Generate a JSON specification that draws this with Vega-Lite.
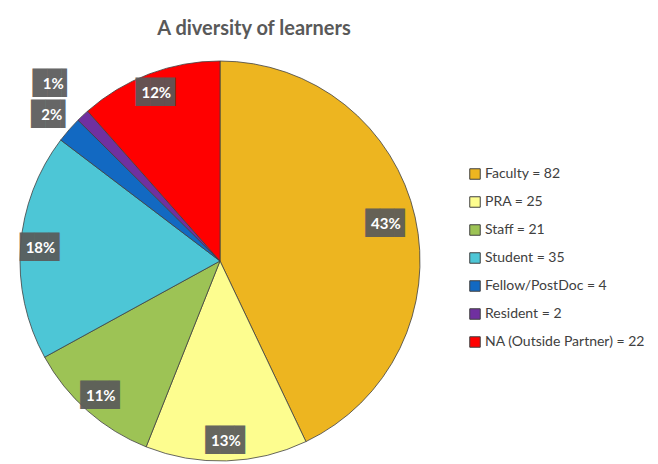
{
 "$schema": "https://vega.github.io/schema/vega-lite/v6.json",
 "width": 400, "height": 400,
 "autosize": {"type": "none"},
 "padding": {"left": 20, "top": 61, "right": 238, "bottom": 3},
 "background": "white",
 "title": {"text": "A diversity of learners", "anchor": "middle", "dx": 34, "fontSize": 20, "font": "Lato", "fontWeight": "bold", "color": "#595959", "offset": -17},
 "data": {"values": [
   {"idx": 1, "category": "Faculty = 82", "value": 82, "pct": "43%"},
   {"idx": 2, "category": "PRA = 25", "value": 25, "pct": "13%"},
   {"idx": 3, "category": "Staff = 21", "value": 21, "pct": "11%"},
   {"idx": 4, "category": "Student = 35", "value": 35, "pct": "18%"},
   {"idx": 5, "category": "Fellow/PostDoc = 4", "value": 4, "pct": "2%"},
   {"idx": 6, "category": "Resident = 2", "value": 2, "pct": "1%"},
   {"idx": 7, "category": "NA (Outside Partner) = 22", "value": 22, "pct": "12%"}
 ]},
 "encoding": {
   "theta": {"field": "value", "type": "quantitative", "stack": true},
   "order": {"field": "idx", "type": "quantitative"}
 },
 "layer": [
  {"mark": {"type": "arc", "outerRadius": 200, "stroke": "#404040", "strokeWidth": 0.8},
   "encoding": {"color": {"field": "category", "type": "nominal",
     "scale": {"domain": ["Faculty = 82", "PRA = 25", "Staff = 21", "Student = 35", "Fellow/PostDoc = 4", "Resident = 2", "NA (Outside Partner) = 22"],
               "range": ["#EDB520", "#FDFD8F", "#9DC355", "#4DC6D6", "#1269C2", "#7030A0", "#FF0000"]},
     "legend": {"title": null, "orient": "none", "legendX": 448, "legendY": 106, "symbolType": "square", "symbolSize": 110, "symbolStrokeColor": "#404040", "symbolStrokeWidth": 1, "labelFontSize": 14, "labelFont": "Lato", "labelColor": "#404040", "rowPadding": 12, "labelOffset": 3}}}},
  {"mark": {"type": "text", "radius": 170, "font": "DejaVu Sans Mono", "fontSize": 24, "color": "#5a5a5a", "opacity": 0.92, "align": "center", "baseline": "middle", "dx": 1},
   "encoding": {"text": {"condition": {"test": "datum.idx == 1", "value": "██▊"}, "value": ""}}},
  {"mark": {"type": "text", "radius": 180, "font": "DejaVu Sans Mono", "fontSize": 24, "color": "#5a5a5a", "opacity": 0.92, "align": "center", "baseline": "middle", "dx": 1},
   "encoding": {"text": {"condition": {"test": "datum.idx == 2 || datum.idx == 3 || datum.idx == 4 || datum.idx == 7", "value": "██▊"}, "value": ""}}},
  {"mark": {"type": "text", "radius": 223, "font": "DejaVu Sans Mono", "fontSize": 24, "color": "#5a5a5a", "opacity": 0.92, "align": "center", "baseline": "middle", "dx": 1},
   "encoding": {"text": {"condition": {"test": "datum.idx == 5", "value": "██▍"}, "value": ""}}},
  {"mark": {"type": "text", "radius": 243, "font": "DejaVu Sans Mono", "fontSize": 24, "color": "#5a5a5a", "opacity": 0.92, "align": "center", "baseline": "middle", "dx": 1},
   "encoding": {"text": {"condition": {"test": "datum.idx == 6", "value": "██▍"}, "value": ""}}},
  {"mark": {"type": "text", "radius": 170, "font": "Lato", "fontWeight": "bold", "fontSize": 15, "color": "white", "align": "center", "baseline": "middle"},
   "encoding": {"text": {"condition": {"test": "datum.idx == 1", "field": "pct"}, "value": ""}}},
  {"mark": {"type": "text", "radius": 180, "font": "Lato", "fontWeight": "bold", "fontSize": 15, "color": "white", "align": "center", "baseline": "middle"},
   "encoding": {"text": {"condition": {"test": "datum.idx == 2 || datum.idx == 3 || datum.idx == 4 || datum.idx == 7", "field": "pct"}, "value": ""}}},
  {"mark": {"type": "text", "radius": 223, "font": "Lato", "fontWeight": "bold", "fontSize": 15, "color": "white", "align": "center", "baseline": "middle"},
   "encoding": {"text": {"condition": {"test": "datum.idx == 5", "field": "pct"}, "value": ""}}},
  {"mark": {"type": "text", "radius": 243, "font": "Lato", "fontWeight": "bold", "fontSize": 15, "color": "white", "align": "center", "baseline": "middle"},
   "encoding": {"text": {"condition": {"test": "datum.idx == 6", "field": "pct"}, "value": ""}}}
 ]
}
